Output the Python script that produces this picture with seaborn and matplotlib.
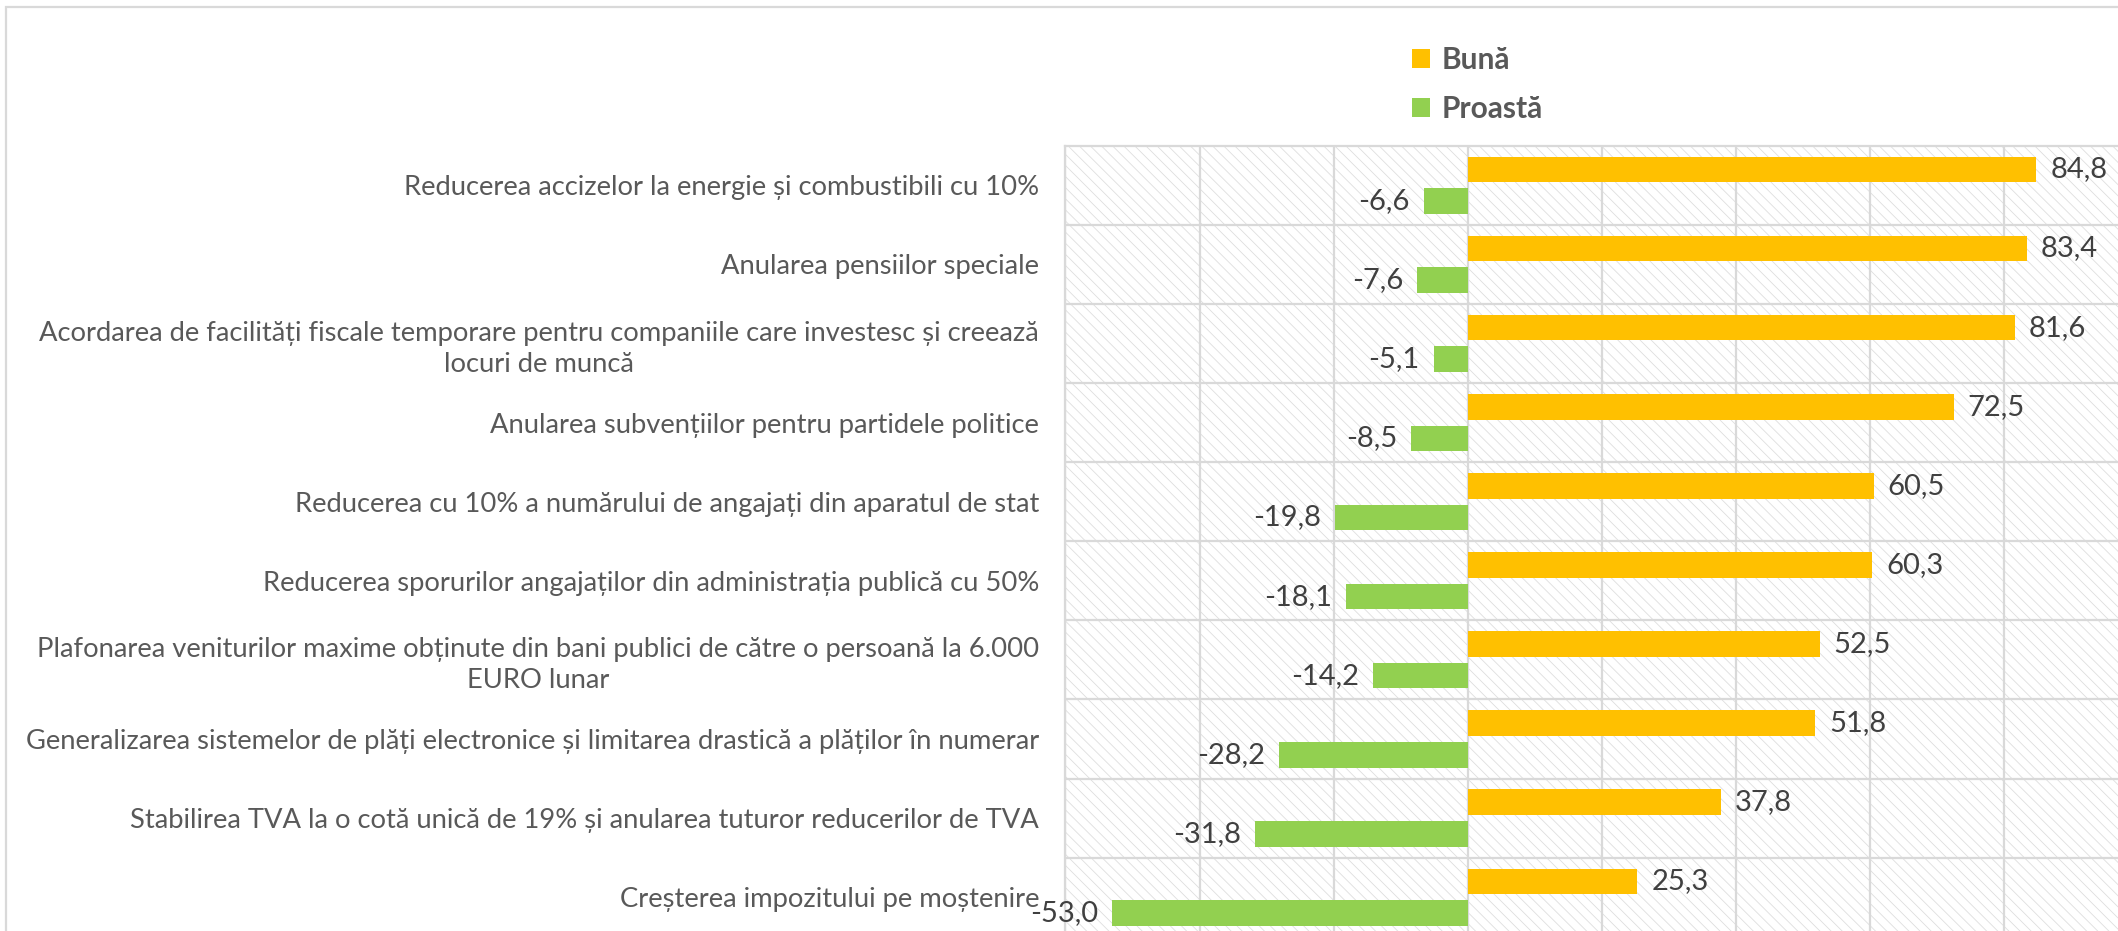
import matplotlib
matplotlib.use("Agg")
import matplotlib.pyplot as plt
import seaborn as sns
import pandas as pd
from matplotlib.patches import Rectangle

# measures, top to bottom
categories = [
    "Reducerea accizelor la energie și combustibili cu 10%",
    "Anularea pensiilor speciale",
    "Acordarea de facilități fiscale temporare pentru companiile care investesc și creează\nlocuri de muncă",
    "Anularea subvențiilor pentru partidele politice",
    "Reducerea cu 10% a numărului de angajați din aparatul de stat",
    "Reducerea sporurilor angajaților din administrația publică cu 50%",
    "Plafonarea veniturilor maxime obținute din bani publici de către o persoană la 6.000\nEURO lunar",
    "Generalizarea sistemelor de plăți electronice și limitarea drastică a plăților în numerar",
    "Stabilirea TVA la o cotă unică de 19% și anularea tuturor reducerilor de TVA",
    "Creșterea impozitului pe moștenire",
]
buna = [84.8, 83.4, 81.6, 72.5, 60.5, 60.3, 52.5, 51.8, 37.8, 25.3]
proasta = [-6.6, -7.6, -5.1, -8.5, -19.8, -18.1, -14.2, -28.2, -31.8, -53.0]
series = ["Bună", "Proastă"]
colors = ["#FFC000", "#92D050"]

df = pd.DataFrame({
    "Masura": categories * 2,
    "Valoare": buna + proasta,
    "Evaluare": [series[0]] * len(buna) + [series[1]] * len(proasta),
})

sns.set_style("white")
plt.rcParams["font.family"] = ["Lato", "DejaVu Sans"]
plt.rcParams["hatch.linewidth"] = 0.6

W, H = 2118, 931
fig = plt.figure(figsize=(W / 100, H / 100), dpi=100)
fig.patch.set_facecolor("white")

# plot area (goes past the right and bottom edge, like the cropped original)
left, right, top, bottom = 1065.4, 2138.4, 145.7, 936.7
ax = fig.add_axes([left / W, 1 - bottom / H, (right - left) / W, (bottom - top) / H])

sns.barplot(data=df, x="Valoare", y="Masura", hue="Evaluare", orient="h",
            palette=colors, saturation=1, width=0.8, gap=0.19, linewidth=0,
            legend=True, ax=ax, zorder=3)

ax.set_xlim(-60, 100)
ax.set_ylim(9.5, -0.5)
ax.set_xticks(range(-60, 101, 20))
ax.set_xticklabels([])
ax.set_yticks(range(len(categories)), categories)
ax.set_yticks([i + 0.5 for i in range(len(categories) - 1)], minor=True)
ax.tick_params(axis="both", which="both", length=0)
ax.tick_params(axis="y", which="major", pad=19, labelsize=19.7, labelcolor="#595959")
for t in ax.get_yticklabels():
    t.set_multialignment("center")
    t.set_linespacing(1.3)
ax.set_xlabel("")
ax.set_ylabel("")

ax.grid(axis="x", which="major", color="#d9d9d9", lw=1.6, zorder=1)
ax.grid(axis="y", which="minor", color="#d9d9d9", lw=1.6, zorder=1)
ax.set_axisbelow(True)
for s in ax.spines.values():
    s.set_color("#d9d9d9")
    s.set_linewidth(1.6)

# hatched plot area background
ax.patch.set_hatch("\\\\\\")
ax.patch.set_edgecolor("#dedede")
ax.patch.set_linewidth(0)

for cont, vals in zip(ax.containers, [buna, proasta]):
    ax.bar_label(cont, labels=[f"{v:.1f}".replace(".", ",") for v in vals],
                 padding=10, fontsize=21, color="#404040")

handles, labels = ax.get_legend_handles_labels()
ax.get_legend().remove()
fig.legend(handles, labels, loc="upper left", bbox_to_anchor=(1412 / W, 1 - 46 / H),
           frameon=False, handlelength=0.6, handleheight=0.6, handletextpad=0.4,
           labelspacing=0.72, borderpad=0, borderaxespad=0,
           prop={"weight": "bold", "size": 21.5}, labelcolor="#595959")

# chart area border
fig.add_artist(Rectangle((6 / W, -0.05), 1.1, 1.05 - 7.5 / H, transform=fig.transFigure,
                         fill=False, edgecolor="#d9d9d9", lw=1.6, clip_on=False))

fig.savefig("out.png", dpi=100, facecolor="white")
